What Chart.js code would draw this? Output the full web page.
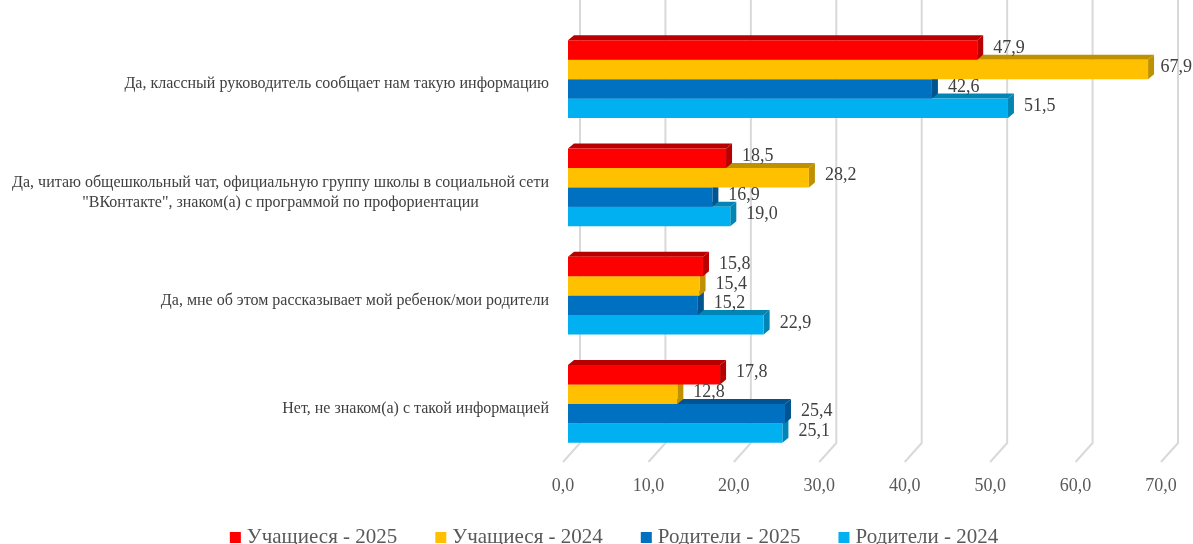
<!DOCTYPE html>
<html lang="ru">

<head>
    <meta charset="UTF-8">
    <title>Информированность о профориентации</title>
    <style>
        body {
            margin: 0;
            padding: 0;
            background-color: #ffffff;
        }

        .chart-box {
            width: 1193px;
            height: 544px;
        }
    </style>
</head>

<body>
    <div class="chart-box">
        <canvas id="infoChart"></canvas>
    </div>

    <script src="https://cdn.jsdelivr.net/npm/chart.js"></script>
    <script>
        // Data
        const categories = [
            'Да, классный руководитель сообщает нам такую информацию',
            ['Да, читаю общешкольный чат, официальную группу школы в социальной сети', '"ВКонтакте", знаком(а) с программой по профориентации'],
            'Да, мне об этом рассказывает мой ребенок/мои родители',
            'Нет, не знаком(а) с такой информацией'
        ];
        const seriesNames = ['Учащиеся - 2025', 'Учащиеся - 2024', 'Родители - 2025', 'Родители - 2024'];
        const students2025 = [47.9, 18.5, 15.8, 17.8];
        const students2024 = [67.9, 28.2, 15.4, 12.8];
        const parents2025 = [42.6, 16.9, 15.2, 25.4];
        const parents2024 = [51.5, 19.0, 22.9, 25.1];
        const xTicks = [0, 10, 20, 30, 40, 50, 60, 70];

        const frontColors = ['#FF0000', '#FFC000', '#0070C0', '#00B0F0'];
        const sideColors = ['#B80000', '#BF9000', '#00548F', '#0085B5'];
        const serif = "'Liberation Serif', 'Times New Roman', serif";
        const depth = { dx: 6, dy: 5 };

        function fmt(v) {
            return v.toFixed(1).replace('.', ',');
        }

        // fake 3D: grid with a floor, extrusions, labels, legend
        const bar3d = {
            id: 'bar3d',
            beforeDatasetsDraw(chart) {
                const ctx = chart.ctx;
                const xs = chart.scales.x;
                const area = chart.chartArea;
                ctx.save();
                ctx.strokeStyle = '#D9D9D9';
                ctx.lineWidth = 2;
                xTicks.forEach(t => {
                    const px = xs.getPixelForValue(t);
                    ctx.beginPath();
                    ctx.moveTo(px + 12, area.top - 25);
                    ctx.lineTo(px + 12, area.bottom - 15);
                    ctx.lineTo(px - 5, area.bottom + 4);
                    ctx.stroke();
                });
                ctx.restore();
            },
            beforeDatasetDraw(chart, args) {
                const ctx = chart.ctx;
                const i = args.index;
                ctx.save();
                args.meta.data.forEach(el => {
                    const p = el.getProps(['x', 'y', 'base', 'height'], true);
                    const top = p.y - p.height / 2;
                    const bot = p.y + p.height / 2;
                    ctx.fillStyle = sideColors[i];
                    ctx.beginPath();
                    ctx.moveTo(p.base, top);
                    ctx.lineTo(p.x, top);
                    ctx.lineTo(p.x + depth.dx, top - depth.dy);
                    ctx.lineTo(p.base + depth.dx, top - depth.dy);
                    ctx.closePath();
                    ctx.fill();
                    ctx.beginPath();
                    ctx.moveTo(p.x, top);
                    ctx.lineTo(p.x + depth.dx, top - depth.dy);
                    ctx.lineTo(p.x + depth.dx, bot - depth.dy);
                    ctx.lineTo(p.x, bot);
                    ctx.closePath();
                    ctx.fill();
                });
                ctx.restore();
            },
            afterDatasetsDraw(chart) {
                const ctx = chart.ctx;
                ctx.save();
                ctx.font = '18px ' + serif;
                ctx.fillStyle = '#404040';
                ctx.textBaseline = 'middle';
                ctx.textAlign = 'left';
                chart.data.datasets.forEach((ds, i) => {
                    chart.getDatasetMeta(i).data.forEach((el, j) => {
                        const txt = fmt(ds.data[j]);
                        const w = ctx.measureText(txt).width;
                        // keep labels inside the canvas, like Excel does
                        const tx = Math.min(el.x + depth.dx + 10, chart.width - w - 1);
                        ctx.fillText(txt, tx, el.y - 2);
                    });
                });
                ctx.restore();
            },
            afterDraw(chart) {
                const ctx = chart.ctx;
                const xs = chart.scales.x;
                const ys = chart.scales.y;
                const area = chart.chartArea;
                ctx.save();

                // category labels
                ctx.font = '16px ' + serif;
                ctx.fillStyle = '#404040';
                ctx.textBaseline = 'middle';
                categories.forEach((c, i) => {
                    const lines = Array.isArray(c) ? c : [c];
                    const cy = ys.getPixelForValue(i) + 5;
                    const w = Math.max(...lines.map(l => ctx.measureText(l).width));
                    const cx = 549 - w / 2;
                    ctx.textAlign = 'center';
                    lines.forEach((l, k) => {
                        ctx.fillText(l, cx, cy + (k - (lines.length - 1) / 2) * 20);
                    });
                });

                // x tick labels
                ctx.font = '18px ' + serif;
                ctx.fillStyle = '#595959';
                ctx.textAlign = 'center';
                xTicks.forEach(t => {
                    ctx.fillText(fmt(t), xs.getPixelForValue(t) - 5, area.bottom + 28);
                });

                // legend
                ctx.font = '21px ' + serif;
                ctx.textAlign = 'left';
                const gap = 38;
                const widths = seriesNames.map(s => 17 + ctx.measureText(s).width);
                const total = widths.reduce((a, b) => a + b, 0) + gap * (widths.length - 1);
                let lx = 614 - total / 2;
                const ly = 537;
                seriesNames.forEach((s, i) => {
                    ctx.fillStyle = frontColors[i];
                    ctx.fillRect(lx, ly - 5, 11, 11);
                    ctx.fillStyle = '#595959';
                    ctx.fillText(s, lx + 17, ly);
                    lx += widths[i] + gap;
                });
                ctx.restore();
            }
        };

        const seriesData = [students2025, students2024, parents2025, parents2024];

        const ctx = document.getElementById('infoChart').getContext('2d');
        const infoChart = new Chart(ctx, {
            type: 'bar',
            data: {
                labels: categories,
                datasets: seriesNames.map((name, i) => ({
                    label: name,
                    data: seriesData[i],
                    backgroundColor: frontColors[i],
                    borderWidth: 0,
                    barPercentage: 1,
                    categoryPercentage: 0.72
                }))
            },
            options: {
                indexAxis: 'y',
                responsive: true,
                maintainAspectRatio: false,
                animation: false,
                layout: {
                    padding: { left: 568, right: 27, top: 25, bottom: 86 }
                },
                scales: {
                    x: { min: 0, max: 70, display: false },
                    y: { display: false }
                },
                plugins: {
                    legend: { display: false },
                    tooltip: { enabled: false }
                }
            },
            plugins: [bar3d]
        });
    </script>
</body>

</html>
